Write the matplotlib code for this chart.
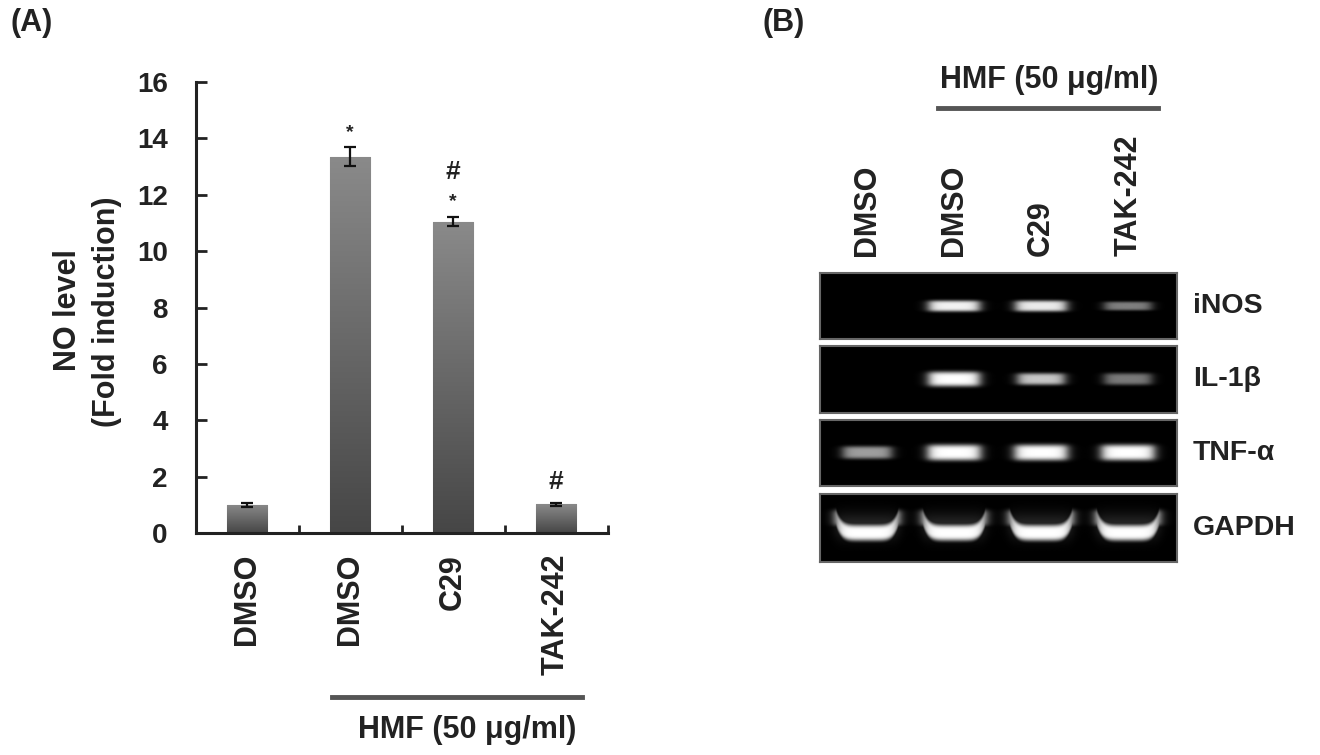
import numpy as np
import matplotlib
matplotlib.use("Agg")
import matplotlib.pyplot as plt
from matplotlib.lines import Line2D
from matplotlib.transforms import blended_transform_factory

plt.rcParams['font.family'] = ['Liberation Sans', 'DejaVu Sans']
plt.rcParams['font.weight'] = 'bold'

# ---------------- data ----------------
categories = ["DMSO", "DMSO", "C29", "TAK-242"]
no_level = [1.0, 13.35, 11.05, 1.02]
no_err = [0.06, 0.33, 0.17, 0.06]
star_marks = ["", "*", "*", ""]
hash_marks = ["", "", "#", "#"]
y_ticks = [0, 2, 4, 6, 8, 10, 12, 14, 16]
treatment_label = "HMF (50 \u03bcg/ml)"

gel_lanes = ["DMSO", "DMSO", "C29", "TAK-242"]
gel_genes = ["iNOS", "IL-1\u03b2", "TNF-\u03b1", "GAPDH"]
inos_band = [0.0, 0.95, 0.92, 0.5]
il1b_band = [0.0, 1.0, 0.78, 0.48]
tnfa_band = [0.62, 1.0, 1.0, 1.0]
gapdh_band = [1.0, 1.0, 1.0, 1.0]

W, H = 1320, 755
fig = plt.figure(figsize=(W / 100, H / 100), dpi=100)
TXT = '#222222'


def fx(px):
    return px / W


def fy(py):
    return 1 - py / H


# ---------------- Panel A ----------------
axA = fig.add_axes([fx(195.5), fy(533), fx(607.5) - fx(195.5), fy(82) - fy(533)])
x = np.arange(len(categories))
bars = axA.bar(x, no_level, width=0.39, color='#666666', edgecolor='#9a9a9a',
               linewidth=0.8, zorder=2)
grad = np.linspace(0, 1, 256).reshape(-1, 1)
gcmap = matplotlib.colors.LinearSegmentedColormap.from_list(
    'g', ['#464646', '#8a8a8a'])
for b in bars:
    x0, y0 = b.get_x(), b.get_y()
    w, h = b.get_width(), b.get_height()
    im = axA.imshow(grad, extent=(x0, x0 + w, y0, y0 + h), origin='lower',
                    cmap=gcmap, aspect='auto', zorder=2.5)
    im.set_clip_path(b)
axA.errorbar(x, no_level, yerr=no_err, fmt='none', ecolor='#111111',
             elinewidth=1.6, capsize=4, capthick=1.6, zorder=3)
for i in range(len(categories)):
    top = no_level[i] + no_err[i]
    if star_marks[i]:
        axA.annotate(star_marks[i], xy=(x[i], top), xytext=(0, 11),
                     textcoords='offset points', ha='center', va='center',
                     fontsize=14, color=TXT)
    if hash_marks[i]:
        off = 32 if star_marks[i] else 15
        axA.annotate(hash_marks[i], xy=(x[i], top), xytext=(0, off),
                     textcoords='offset points', ha='center', va='center',
                     fontsize=19, color=TXT)

axA.set_xlim(-0.5, 3.5)
axA.set_ylim(0, 16)
axA.set_yticks(y_ticks)
axA.set_yticklabels([str(t) for t in y_ticks], fontsize=20, fontweight='bold',
                    color=TXT)
axA.set_xticks(x)
axA.set_xticklabels(categories, rotation=90, fontsize=22, fontweight='bold',
                    color=TXT, va='top')
axA.set_xticks(np.arange(0.5, 4.0, 1.0), minor=True)
axA.tick_params(axis='y', direction='in', length=8, width=2, pad=20,
                color=TXT)
axA.tick_params(axis='x', which='major', length=0, pad=15)
axA.tick_params(axis='x', which='minor', direction='in', length=6, width=2,
                color=TXT)
for s in ['top', 'right']:
    axA.spines[s].set_visible(False)
for s in ['left', 'bottom']:
    axA.spines[s].set_linewidth(2.2)
    axA.spines[s].set_color(TXT)

fig.text(fx(68), fy(310), "NO level", rotation=90, ha='center', va='center',
         fontsize=22, fontweight='bold', color=TXT)
fig.text(fx(107), fy(312), "(Fold induction)", rotation=90, ha='center',
         va='center', fontsize=22, fontweight='bold', color=TXT)
fig.text(fx(10), fy(23), "(A)", ha='left', va='center', fontsize=22,
         fontweight='bold', color=TXT)

fig.add_artist(Line2D([fx(332), fx(582)], [fy(697), fy(697)], color='#555555',
                      linewidth=3.5))
fig.text(fx(467), fy(730), treatment_label, ha='center', va='center',
         fontsize=22, fontweight='bold', color=TXT)

# ---------------- Panel B (gel) ----------------
fig.text(fx(762), fy(23), "(B)", ha='left', va='center', fontsize=22,
         fontweight='bold', color=TXT)

rows_px = [(273, 339), (346, 413), (420, 486), (494, 562)]
band_data = [inos_band, il1b_band, tnfa_band, gapdh_band]
band_half_w = [0.29, 0.29, 0.30, 0.36]
band_sigma = [0.085, 0.11, 0.12, 0.12]
band_center = [0.5, 0.5, 0.5, 0.43]
band_smile = [0.0, 0.0, 0.0, 0.22]
gx0, gx1 = 820, 1177
xlim = (0.46, 4.56)

gel_axes = []
for r, (t, b) in enumerate(rows_px):
    ax = fig.add_axes([fx(gx0), fy(b), fx(gx1) - fx(gx0), fy(t) - fy(b)])
    ax.set_facecolor('black')
    nx, ny = 500, 140
    xs = np.linspace(xlim[0], xlim[1], nx)
    ys = np.linspace(0, 1, ny)
    XX, YY = np.meshgrid(xs, ys)
    img = np.zeros_like(XX)
    for li, inten in enumerate(band_data[r]):
        if inten <= 0:
            continue
        c = li + 1
        dx = XX - c
        hw = band_half_w[r] * (0.92 if inten < 0.8 else 1.0)
        sig = band_sigma[r] * (0.8 if inten < 0.8 else 1.0)
        horiz = 1 / (1 + np.exp((np.abs(dx) - hw) / 0.035))
        rel = np.clip(np.abs(dx) / hw, 0, 1)
        yc = band_center[r] + band_smile[r] * rel ** 6
        vert = np.exp(-((YY - yc) / sig) ** 4)
        if band_smile[r] > 0:
            # soft glow between walls of the U-shaped band
            vert = np.maximum(vert, 0.15 * np.exp(-((YY - band_center[r] - 0.1) / 0.2) ** 2))
        img += inten * horiz * vert
    ax.imshow(np.clip(img, 0, 1), extent=(xlim[0], xlim[1], 0, 1),
              origin='lower', cmap='gray', vmin=0, vmax=1, aspect='auto',
              interpolation='bilinear')
    ax.set_xlim(*xlim)
    ax.set_ylim(0, 1)
    ax.set_xticks([])
    ax.set_yticks([])
    for s in ax.spines.values():
        s.set_color('#666666')
        s.set_linewidth(1.5)
    ax.text(1.045, 0.5, gel_genes[r], transform=ax.transAxes, ha='left',
            va='center', fontsize=20.5, fontweight='bold', color=TXT)
    gel_axes.append(ax)

top_ax = gel_axes[0]
trans = blended_transform_factory(top_ax.transData, top_ax.transAxes)
for li, name in enumerate(gel_lanes):
    top_ax.annotate(name, xy=(li + 1, 1), xycoords=trans, xytext=(0, 12),
                    textcoords='offset points', rotation=90, ha='center',
                    va='bottom', fontsize=22, fontweight='bold', color=TXT)

fig.add_artist(Line2D([fx(938), fx(1158)], [fy(108), fy(108)],
                      color='#555555', linewidth=3.5))
fig.text(fx(1049), fy(80), treatment_label, ha='center', va='center',
         fontsize=22, fontweight='bold', color=TXT)

fig.savefig("out.png", dpi=100, facecolor='white')
